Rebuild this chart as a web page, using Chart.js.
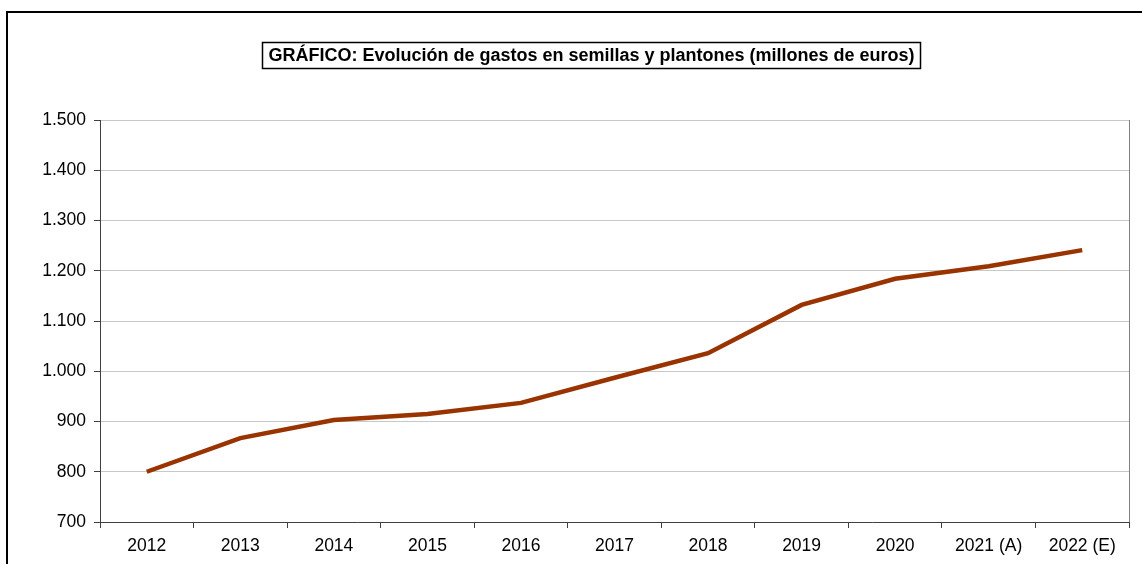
<!DOCTYPE html>
<html>
<head>
<meta charset="utf-8">
<script src="https://cdn.jsdelivr.net/npm/chart.js@4.4.1/dist/chart.umd.min.js"></script>
<style>
  html, body { margin: 0; padding: 0; background: #fff; }
  #wrap { position: relative; width: 1142px; height: 564px; }
</style>
</head>
<body>
<div id="wrap"><canvas id="line-chart" width="1142" height="564"></canvas></div>
<script>
const years = ['2012', '2013', '2014', '2015', '2016', '2017', '2018', '2019', '2020', '2021 (A)', '2022 (E)'];
const gastos = [800, 867, 903, 915, 937, 987, 1036, 1132, 1184, 1209, 1241];
const yTicks = [700, 800, 900, 1000, 1100, 1200, 1300, 1400, 1500];
const chartTitle = 'GRÁFICO: Evolución de gastos en semillas y plantones (millones de euros)';

const fmt = v => String(v).replace(/\B(?=(\d{3})+(?!\d))/g, '.');

// marco exterior, borde derecho del área y título recuadrado
const frames = {
    id: 'frames',
    afterDraw(chart) {
        const ctx = chart.ctx;
        const a = chart.chartArea;
        ctx.save();
        ctx.strokeStyle = '#000';
        ctx.lineWidth = 2;
        ctx.beginPath();
        ctx.moveTo(7, 600);
        ctx.lineTo(7, 12);
        ctx.lineTo(1200, 12);
        ctx.stroke();

        ctx.strokeStyle = '#808080';
        ctx.lineWidth = 1;
        ctx.beginPath();
        ctx.moveTo(Math.round(a.right) + 0.5, a.top);
        ctx.lineTo(Math.round(a.right) + 0.5, a.bottom);
        ctx.stroke();

        ctx.font = 'bold 18px "Liberation Sans", Arial, sans-serif';
        ctx.fillStyle = '#000';
        ctx.textAlign = 'center';
        ctx.textBaseline = 'middle';
        const w = ctx.measureText(chartTitle).width;
        const cx = 591.5;
        ctx.fillText(chartTitle, cx, 56);
        ctx.strokeStyle = '#000';
        ctx.lineWidth = 1.5;
        ctx.strokeRect(Math.round(cx - w / 2 - 6) + 0.5, 42.5, Math.round(w + 12), 26);
        ctx.restore();
    }
};

new Chart(document.getElementById('line-chart'), {
    type: 'line',
    data: {
        labels: years,
        datasets: [{
            data: gastos,
            borderColor: '#993300',
            borderWidth: 4.5,
            pointRadius: 0,
            tension: 0,
            fill: false
        }]
    },
    options: {
        responsive: false,
        animation: false,
        layout: { padding: { left: 0, right: 13, top: 120, bottom: 0 } },
        plugins: {
            legend: { display: false },
            tooltip: { enabled: false },
            title: { display: false }
        },
        scales: {
            x: {
                offset: true,
                grid: { offset: true, drawOnChartArea: false, drawTicks: true, tickLength: 6, tickColor: '#404040' },
                border: { color: '#404040', width: 1 },
                ticks: { color: '#000', font: { family: '"Liberation Sans", Arial, sans-serif', size: 17.5 }, padding: 8, maxRotation: 0, autoSkip: false },
                afterFit(scale) { scale.height = 42; }
            },
            y: {
                min: 700,
                max: 1500,
                afterBuildTicks(scale) { scale.ticks = yTicks.map(v => ({ value: v })); },
                grid: { color: '#c8c8c8', tickColor: '#404040', tickLength: 6 },
                border: { color: '#404040', width: 1 },
                ticks: { color: '#000', font: { family: '"Liberation Sans", Arial, sans-serif', size: 17.5 }, padding: 8, callback: v => fmt(v) },
                afterFit(scale) { scale.width = 100; }
            }
        }
    },
    plugins: [frames]
});
</script>
</body>
</html>
